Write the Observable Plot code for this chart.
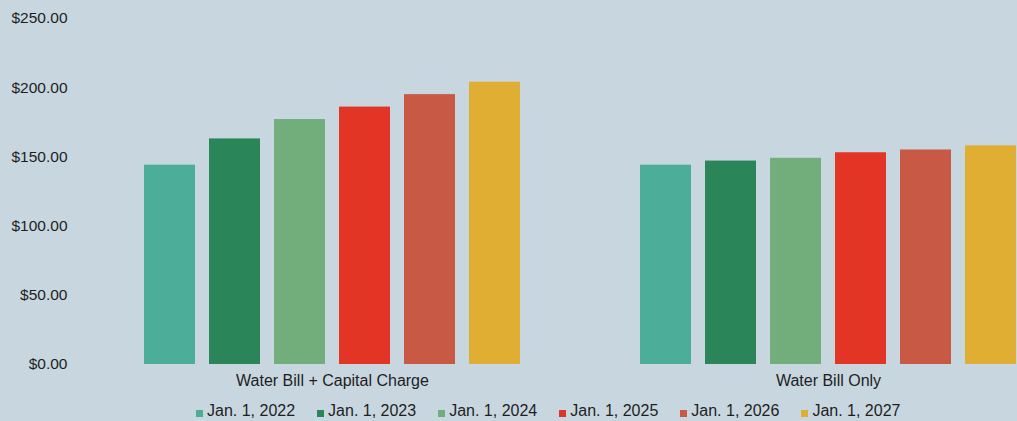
<!DOCTYPE html>
<html>
<head>
<meta charset="utf-8">
<script src="https://cdn.jsdelivr.net/npm/d3@7"></script>
<script src="https://cdn.jsdelivr.net/npm/@observablehq/plot@0.6"></script>
<style>
  html, body { margin: 0; padding: 0; overflow: hidden; background: #c8d6e0; }
  body { width: 1017px; height: 421px; font-family: "Liberation Sans", Arial, sans-serif; color: #1e1e1e; }
  #legend { display: flex; align-items: center; padding-left: 196px; margin-top: 10px; height: 18px; font-size: 16px; line-height: 18px; }
  #legend .item { display: flex; align-items: center; margin-right: 22px; white-space: nowrap; }
  #legend .sw { width: 7px; height: 7px; margin-right: 4px; margin-top: 5px; }
  [aria-label="fx-axis tick label"] { font-size: 16px; }
</style>
</head>
<body>
<div id="chart"></div>
<div id="legend"></div>
<script>
const groups = ["Water Bill + Capital Charge", "Water Bill Only"];
const years = ["Jan. 1, 2022", "Jan. 1, 2023", "Jan. 1, 2024", "Jan. 1, 2025", "Jan. 1, 2026", "Jan. 1, 2027"];
const capitalChargeValues = [144, 163, 177, 186, 195, 204];
const waterOnlyValues = [144, 147, 149, 153, 155, 158];
const yTicks = [0, 50, 100, 150, 200, 250];
const colors = ["#4cae98", "#2a8558", "#72ae7c", "#e33526", "#c85a45", "#e0ae32"];

const data = [
  ...years.map((year, i) => ({group: groups[0], year, value: capitalChargeValues[i]})),
  ...years.map((year, i) => ({group: groups[1], year, value: waterOnlyValues[i]}))
];

const chart = Plot.plot({
  width: 1026,
  height: 392,
  marginLeft: 134,
  marginRight: 0,
  marginTop: 18,
  marginBottom: 28,
  style: {
    background: "transparent",
    maxWidth: "none",
    fontFamily: "'Liberation Sans', Arial, sans-serif",
    fontSize: "15.5px",
    color: "#1e1e1e",
    overflow: "visible"
  },
  fx: {domain: groups, paddingInner: 0.2048, paddingOuter: 0, axis: "bottom", tickSize: 0, tickPadding: 10, label: null},
  x: {domain: years, paddingInner: 0.2121, paddingOuter: 0.1, axis: null},
  y: {domain: [0, 250], ticks: yTicks, tickFormat: d3.format("$.2f"), tickSize: 0, tickPadding: 68, label: null},
  color: {domain: years, range: colors},
  marks: [
    Plot.barY(data, {fx: "group", x: "year", y: "value", fill: "year"})
  ]
});
document.getElementById("chart").appendChild(chart);

const legend = d3.select("#legend");
years.forEach((y, i) => {
  const item = legend.append("div").attr("class", "item");
  item.append("div").attr("class", "sw").style("background", colors[i]);
  item.append("span").text(y);
});
</script>
</body>
</html>
